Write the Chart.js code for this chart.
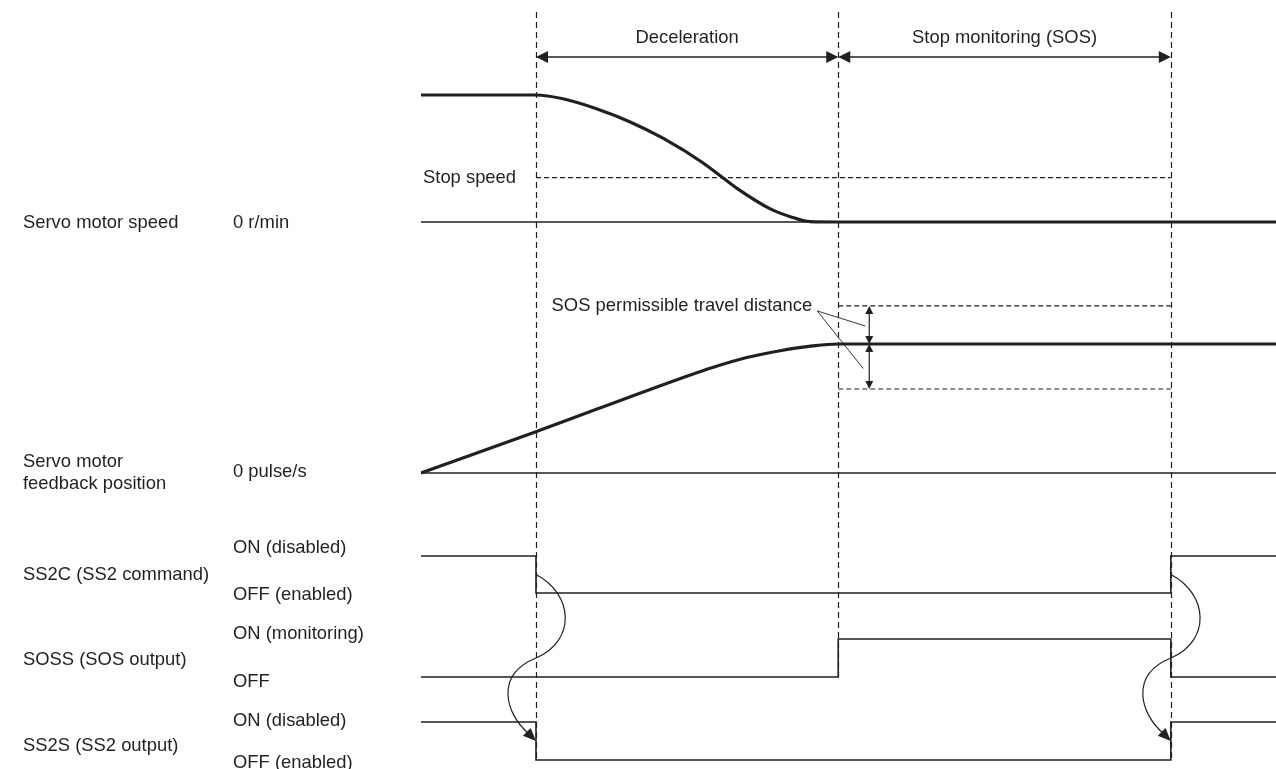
<!DOCTYPE html>
<html>
<head>
<meta charset="utf-8">
<title>SS2 / SOS timing chart</title>
<script src="https://cdn.jsdelivr.net/npm/chart.js@4.4.1/dist/chart.umd.min.js"></script>
<style>
  html, body { margin: 0; padding: 0; background: #fff; }
  #wrap { width: 1276px; height: 769px; }
</style>
</head>
<body>
<div id="wrap"><canvas id="timing" width="1276" height="769"></canvas></div>
<script>
// Timing chart - SS2 stop followed by SOS stop monitoring

// time axis runs 0..100 (arbitrary units)
const eventTimes = [13.45, 48.8, 87.7]; // SS2C off, motor stopped, SS2C on again
const timeEnd = 100;

// servo motor speed (1 = running speed)
const speedTimes  = [0, 13.45, 16.6, 20.6, 24.4, 28.3, 33.0, 35.3, 37.0, 40.8, 43.2, 45.5, 48.8, 100];
const speedValues = [1, 1, 0.97, 0.89, 0.79, 0.66, 0.465, 0.348, 0.263, 0.105, 0.042, 0.003, 0, 0];
const stopSpeed = 0.35;

// feedback position (1 = position where the motor stopped)
const positionTimes  = [0, 13.45, 31.5, 34.2, 38.1, 42.0, 45.8, 48.8, 100];
const positionValues = [0, 0.32, 0.76, 0.82, 0.895, 0.948, 0.985, 1, 1];
const sosUpper = 0.295;
const sosLower = 0.349;

// on/off signals (1 = ON)
const ss2cTimes  = [0, 13.45, 87.7, 100];
const ss2cLevels = [1, 0, 1, 1];
const sossTimes  = [0, 48.8, 87.7, 100];
const sossLevels = [0, 1, 0, 0];
const ss2sTimes  = [0, 13.45, 87.7, 100];
const ss2sLevels = [1, 0, 1, 1];

const phaseNames = ['Deceleration', 'Stop monitoring (SOS)'];

// layout: row baselines and heights in y-scale units (scale = canvas height, top down)
const rows = {
  speed:    { base: 222, height: 127 },
  position: { base: 473, height: 129 },
  ss2c:     { base: 593, height: 37 },
  soss:     { base: 677, height: 38 },
  ss2s:     { base: 760, height: 38 }
};

const leftLabels = [
  { text: 'Servo motor speed', x: 23, y: 223 },
  { text: 'Servo motor', x: 23, y: 462 },
  { text: 'feedback position', x: 23, y: 484 },
  { text: 'SS2C (SS2 command)', x: 23, y: 575 },
  { text: 'SOSS (SOS output)', x: 23, y: 660 },
  { text: 'SS2S (SS2 output)', x: 23, y: 746 },
  { text: '0 r/min', x: 233, y: 223 },
  { text: '0 pulse/s', x: 233, y: 472 },
  { text: 'ON (disabled)', x: 233, y: 548 },
  { text: 'OFF (enabled)', x: 233, y: 595 },
  { text: 'ON (monitoring)', x: 233, y: 634 },
  { text: 'OFF', x: 233, y: 682 },
  { text: 'ON (disabled)', x: 233, y: 721 },
  { text: 'OFF (enabled)', x: 233, y: 763 }
];

const INK = '#231f20';
const FONT = '18.4px "Liberation Sans", Arial, sans-serif';

function toPoints(times, values, row) {
  return times.map((t, i) => ({ x: t, y: row.base - values[i] * row.height }));
}

function flatLine(t0, t1, y) {
  return [{ x: t0, y: y }, { x: t1, y: y }];
}

function arrowHead(ctx, x, y, dx, dy, len, half) {
  const l = Math.hypot(dx, dy);
  const ux = dx / l, uy = dy / l;
  ctx.beginPath();
  ctx.moveTo(x, y);
  ctx.lineTo(x - ux * len - uy * half, y - uy * len + ux * half);
  ctx.lineTo(x - ux * len + uy * half, y - uy * len - ux * half);
  ctx.closePath();
  ctx.fill();
}

function hDoubleArrow(ctx, x1, x2, y) {
  ctx.beginPath();
  ctx.moveTo(x1 + 8, y);
  ctx.lineTo(x2 - 8, y);
  ctx.stroke();
  arrowHead(ctx, x1, y, -1, 0, 12, 6);
  arrowHead(ctx, x2, y, 1, 0, 12, 6);
}

function vDoubleArrow(ctx, x, y1, y2) {
  ctx.beginPath();
  ctx.moveTo(x, y1 + 5);
  ctx.lineTo(x, y2 - 5);
  ctx.stroke();
  arrowHead(ctx, x, y1, 0, -1, 8, 4);
  arrowHead(ctx, x, y2, 0, 1, 8, 4);
}

function curvedArrow(ctx, x, yTop, yMid, yTip) {
  ctx.beginPath();
  ctx.moveTo(x, yTop);
  ctx.bezierCurveTo(x + 38, yTop + 20, x + 40, yMid - 17, x, yMid);
  ctx.bezierCurveTo(x - 42, yMid + 17, x - 30, yTip - 27, x - 8, yTip - 8);
  ctx.stroke();
  arrowHead(ctx, x, yTip, 1, 1, 13, 5.5);
}

const timingDecorations = {
  id: 'timingDecorations',
  beforeDatasetsDraw(chart) {
    const { ctx, scales } = chart;
    const bottoms = [rows.ss2s.base, rows.soss.base, rows.ss2s.base];
    ctx.save();
    ctx.strokeStyle = INK;
    ctx.lineWidth = 1.2;
    ctx.setLineDash([6, 4]);
    eventTimes.forEach((t, i) => {
      const x = Math.round(scales.x.getPixelForValue(t)) + 0.5;
      ctx.beginPath();
      ctx.moveTo(x, 12);
      ctx.lineTo(x, scales.y.getPixelForValue(bottoms[i]));
      ctx.stroke();
    });
    ctx.restore();
  },
  afterDraw(chart) {
    const { ctx, scales } = chart;
    const xs = eventTimes.map(t => scales.x.getPixelForValue(t));
    const yOf = v => scales.y.getPixelForValue(v);

    ctx.save();
    ctx.strokeStyle = INK;
    ctx.fillStyle = INK;
    ctx.lineWidth = 1.4;

    // phase arrows at the top
    hDoubleArrow(ctx, xs[0], xs[1], 57);
    hDoubleArrow(ctx, xs[1], xs[2], 57);

    // SOS permissible travel distance
    const posY = yOf(rows.position.base - rows.position.height);
    const upY = yOf(rows.position.base - (1 + sosUpper) * rows.position.height);
    const lowY = yOf(rows.position.base - (1 - sosLower) * rows.position.height);
    const ax = xs[1] + 31;
    ctx.lineWidth = 1.2;
    vDoubleArrow(ctx, ax, upY, posY);
    vDoubleArrow(ctx, ax, posY, lowY);
    ctx.lineWidth = 0.9;
    ctx.beginPath();
    ctx.moveTo(xs[1] - 21, upY + 5);
    ctx.lineTo(ax - 4, (upY + posY) / 2 + 1);
    ctx.moveTo(xs[1] - 21, upY + 5);
    ctx.lineTo(ax - 6, (posY + lowY) / 2 + 2);
    ctx.stroke();

    // cause/effect arrows SS2C -> SS2S
    ctx.lineWidth = 1.2;
    [xs[0], xs[2]].forEach(x => {
      curvedArrow(ctx, x,
        yOf(rows.ss2c.base - rows.ss2c.height / 2),
        yOf(rows.soss.base - rows.soss.height / 2),
        yOf(rows.ss2s.base - rows.ss2s.height / 2));
    });

    // texts
    ctx.font = FONT;
    ctx.textBaseline = 'middle';
    ctx.textAlign = 'center';
    ctx.fillText(phaseNames[0], (xs[0] + xs[1]) / 2, 38);
    ctx.fillText(phaseNames[1], (xs[1] + xs[2]) / 2, 38);
    ctx.textAlign = 'left';
    ctx.fillText('Stop speed', scales.x.getPixelForValue(0) + 2,
      yOf(rows.speed.base - stopSpeed * rows.speed.height));
    ctx.textAlign = 'right';
    ctx.fillText('SOS permissible travel distance', xs[1] - 26, upY);
    ctx.textAlign = 'left';
    leftLabels.forEach(l => ctx.fillText(l.text, l.x, yOf(l.y)));
    ctx.restore();
  }
};

const thick = { borderColor: INK, borderWidth: 3.2, pointRadius: 0, fill: false, cubicInterpolationMode: 'monotone' };
const thin = { borderColor: INK, borderWidth: 1.3, pointRadius: 0, fill: false };
const dashed = { borderColor: INK, borderWidth: 1.2, pointRadius: 0, fill: false, borderDash: [5, 3] };
const signal = { borderColor: INK, borderWidth: 1.6, pointRadius: 0, fill: false, stepped: true };

const posTop = rows.position.base - rows.position.height;

new Chart(document.getElementById('timing'), {
  type: 'line',
  data: {
    datasets: [
      { ...thick, label: 'Servo motor speed', data: toPoints(speedTimes, speedValues, rows.speed) },
      { ...thick, label: 'Servo motor feedback position', data: toPoints(positionTimes, positionValues, rows.position) },
      { ...signal, label: 'SS2C', data: toPoints(ss2cTimes, ss2cLevels, rows.ss2c) },
      { ...signal, label: 'SOSS', data: toPoints(sossTimes, sossLevels, rows.soss) },
      { ...signal, label: 'SS2S', data: toPoints(ss2sTimes, ss2sLevels, rows.ss2s) },
      { ...thin, label: 'speed zero', data: flatLine(0, timeEnd, rows.speed.base) },
      { ...thin, label: 'position zero', data: flatLine(0, timeEnd, rows.position.base) },
      { ...dashed, label: 'Stop speed',
        data: flatLine(eventTimes[0], eventTimes[2], rows.speed.base - stopSpeed * rows.speed.height) },
      { ...dashed, label: 'SOS upper', data: flatLine(eventTimes[1], eventTimes[2], posTop - sosUpper * rows.position.height) },
      { ...dashed, label: 'SOS lower', data: flatLine(eventTimes[1], eventTimes[2], posTop + sosLower * rows.position.height) }
    ]
  },
  options: {
    responsive: false,
    animation: false,
    events: [],
    layout: { padding: { left: 421, right: 0, top: 0, bottom: 0 } },
    scales: {
      x: { type: 'linear', min: 0, max: timeEnd, display: false },
      y: { type: 'linear', min: 0, max: 769, reverse: true, display: false }
    },
    plugins: { legend: { display: false }, tooltip: { enabled: false } }
  },
  plugins: [timingDecorations]
});
</script>
</body>
</html>
